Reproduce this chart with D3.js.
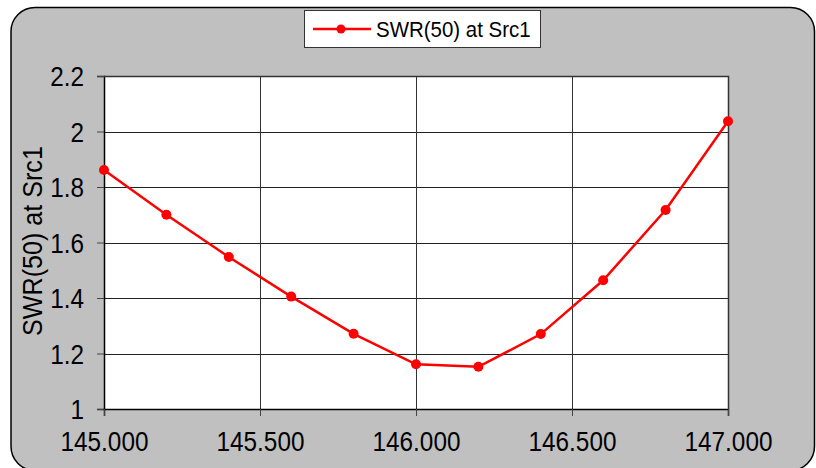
<!DOCTYPE html>
<html>
<head>
<meta charset="utf-8">
<script src="https://cdn.jsdelivr.net/npm/d3@7"></script>
<style>
  body { margin: 0; background: #fff; }
  text { font-family: "Liberation Sans", Arial, sans-serif; fill: #000; }
</style>
</head>
<body>
<div id="chart"></div>
<script>
// data
const freqs = [145.0, 145.2, 145.4, 145.6, 145.8, 146.0, 146.2, 146.4, 146.6, 146.8, 147.0];
const swr = [1.861, 1.700, 1.548, 1.405, 1.271, 1.161, 1.152, 1.270, 1.464, 1.717, 2.037];
const xTicks = [145.0, 145.5, 146.0, 146.5, 147.0];
const yTicks = [1, 1.2, 1.4, 1.6, 1.8, 2, 2.2];
const seriesName = "SWR(50) at Src1";

const W = 816, H = 468;
const plot = { left: 104, right: 728, top: 76, bottom: 409 };

const xScale = d3.scaleLinear().domain([145, 147]).range([plot.left, plot.right]);
const yScale = d3.scaleLinear().domain([1, 2.2]).range([plot.bottom, plot.top]);

const svg = d3.select("#chart")
  .append("svg")
    .attr("width", W)
    .attr("height", H);

// squeeze text horizontally a bit, the reference font is narrow
function squeeze(sel, k) {
  sel.each(function() {
    const len = this.getComputedTextLength();
    d3.select(this)
      .attr("textLength", len * k)
      .attr("lengthAdjust", "spacingAndGlyphs");
  });
}

// outer frame
svg.append("rect")
  .attr("x", 11).attr("y", 7.5)
  .attr("width", 803.5).attr("height", 463)
  .attr("rx", 24).attr("ry", 24)
  .attr("fill", "#c0c0c0")
  .attr("stroke", "#000")
  .attr("stroke-width", 1.5);

// plot area
svg.append("rect")
  .attr("x", plot.left).attr("y", plot.top)
  .attr("width", plot.right - plot.left)
  .attr("height", plot.bottom - plot.top)
  .attr("fill", "#fff");

// gridlines
svg.append("g")
  .selectAll("line")
  .data(yTicks.slice(1))
  .join("line")
    .attr("x1", plot.left).attr("x2", plot.right)
    .attr("y1", d => Math.round(yScale(d)) + 0.5)
    .attr("y2", d => Math.round(yScale(d)) + 0.5)
    .attr("stroke", "#222").attr("stroke-width", 1);

svg.append("g")
  .selectAll("line")
  .data(xTicks.slice(1))
  .join("line")
    .attr("x1", d => Math.round(xScale(d)) + 0.5)
    .attr("x2", d => Math.round(xScale(d)) + 0.5)
    .attr("y1", plot.top).attr("y2", plot.bottom)
    .attr("stroke", "#333").attr("stroke-width", 1);

// axes
const yAxis = svg.append("g")
  .attr("transform", `translate(${plot.left},0)`)
  .call(d3.axisLeft(yScale).tickValues(yTicks).tickSize(7).tickPadding(13)
    .tickFormat(d3.format("~g")));
yAxis.select(".domain").attr("stroke", "#000").attr("stroke-width", 1.5);
yAxis.selectAll(".tick line").attr("stroke", "#444");
yAxis.selectAll(".tick text")
  .attr("font-size", 27)
  .attr("font-family", "Liberation Sans, Arial, sans-serif")
  .attr("dy", "0.36em")
  .call(squeeze, 0.9);

const xAxis = svg.append("g")
  .attr("transform", `translate(0,${plot.bottom})`)
  .call(d3.axisBottom(xScale).tickValues(xTicks).tickSize(7).tickPadding(26)
    .tickFormat(d3.format(".3f")));
xAxis.select(".domain").attr("stroke", "#000").attr("stroke-width", 1.5);
xAxis.selectAll(".tick line").attr("stroke", "#444");
xAxis.selectAll(".tick text")
  .attr("font-size", 27)
  .attr("font-family", "Liberation Sans, Arial, sans-serif")
  .attr("dy", "0.35em")
  .call(squeeze, 0.9);

// right and top border of plot
svg.append("path")
  .attr("d", `M${plot.left},${plot.top + 0.5}H${plot.right + 0.5}V${plot.bottom}`)
  .attr("fill", "none")
  .attr("stroke", "#333")
  .attr("stroke-width", 1.5);

// y axis title
svg.append("text")
  .attr("transform", `translate(42,241) rotate(-90)`)
  .attr("text-anchor", "middle")
  .attr("font-size", 27)
  .text(seriesName)
  .call(squeeze, 0.93);

// series
const points = freqs.map((f, i) => ({ f: f, v: swr[i] }));

const line = d3.line()
  .x(d => xScale(d.f))
  .y(d => yScale(d.v));

svg.append("path")
  .datum(points)
  .attr("d", line)
  .attr("fill", "none")
  .attr("stroke", "#ff0000")
  .attr("stroke-width", 2.5);

svg.append("g")
  .selectAll("circle")
  .data(points)
  .join("circle")
    .attr("cx", d => xScale(d.f))
    .attr("cy", d => yScale(d.v))
    .attr("r", 5)
    .attr("fill", "#ff0000");

// legend
const legend = svg.append("g");
legend.append("rect")
  .attr("x", 304.5).attr("y", 10.5)
  .attr("width", 236).attr("height", 37)
  .attr("fill", "#fff")
  .attr("stroke", "#333")
  .attr("stroke-width", 1);
legend.append("line")
  .attr("x1", 313).attr("x2", 371)
  .attr("y1", 29).attr("y2", 29)
  .attr("stroke", "#ff0000").attr("stroke-width", 2.5);
legend.append("circle")
  .attr("cx", 341).attr("cy", 29).attr("r", 4.5)
  .attr("fill", "#ff0000");
legend.append("text")
  .attr("x", 376).attr("y", 37)
  .attr("font-size", 22)
  .text(seriesName)
  .call(squeeze, 0.93);
</script>
</body>
</html>
